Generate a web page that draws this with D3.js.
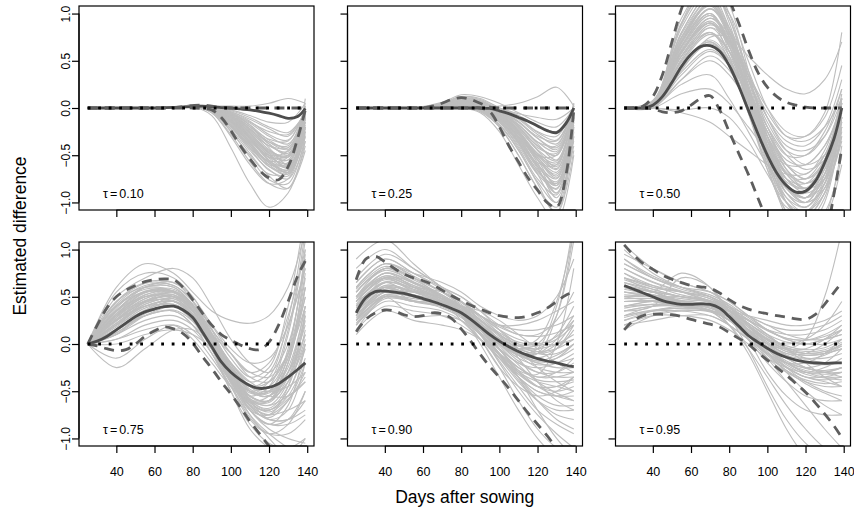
<!DOCTYPE html>
<html>
<head>
<meta charset="utf-8">
<script src="https://cdn.jsdelivr.net/npm/d3@7"></script>
<style>
  body { margin: 0; background: #fff; }
  svg { display: block; font-family: "Liberation Sans", Arial, Helvetica, sans-serif; }
</style>
</head>
<body>
<svg id="chart" width="854" height="516"></svg>
<script>
"use strict";

//
//	Data
//
var tauLabels = ["0.10", "0.25", "0.50", "0.75", "0.90", "0.95"];
var xTicks = [40, 60, 80, 100, 120, 140];
var yTicks = [-1, -0.5, 0, 0.5, 1];
var yTickLabels = ["\u22121.0", "\u22120.5", "0.0", "0.5", "1.0"];

// grid of the estimate and the two band lines
var fineDays = [25, 30, 35, 40, 45, 50, 55, 60, 65, 70, 75, 80, 85, 90, 95, 100, 105, 110, 115, 120, 125, 130, 135, 139];
// grid of the bootstrap (grey) curves
var bootDays = [25, 40, 55, 70, 80, 90, 100, 110, 120, 130, 139];

// tau = 0.10
var est010 = [0, 0, 0, 0, 0, 0, 0, 0, 0.003, 0.006, 0.01, 0.015, 0.02, 0.015, 0.005, 0, -0.01, -0.02, -0.035, -0.055, -0.08, -0.11, -0.09, -0.005];
var up010 = [0, 0, 0, 0, 0, 0, 0, 0, 0, 0.005, 0.015, 0.025, 0.03, 0.02, 0.005, 0, 0, 0, 0, 0, 0, 0, 0, 0];
var lo010 = [0, 0, 0, 0, 0, 0, 0, 0, 0, 0, 0, 0, -0.005, -0.02, -0.1, -0.24, -0.4, -0.54, -0.66, -0.74, -0.76, -0.62, -0.32, -0.02];
var boot010 = [
	[0, 0, 0, 0, 0.02, 0.0, -0.05, -0.15, -0.25, -0.28, -0.05],
	[0, 0, 0, 0, 0.02, -0.01, -0.1, -0.25, -0.4, -0.42, -0.08],
	[0, 0, 0, 0, 0.03, 0.0, -0.08, -0.2, -0.33, -0.35, 0.0],
	[0, 0, 0, 0, 0.02, -0.02, -0.15, -0.35, -0.52, -0.5, -0.1],
	[0, 0, 0, 0, 0.02, -0.03, -0.2, -0.42, -0.6, -0.58, -0.15],
	[0, 0, 0, 0, 0.01, -0.04, -0.25, -0.5, -0.7, -0.68, -0.2],
	[0, 0, 0, 0, 0.02, -0.02, -0.18, -0.4, -0.62, -0.7, -0.3],
	[0, 0, 0, 0, 0.02, 0.0, -0.1, -0.28, -0.48, -0.55, -0.1],
	[0, 0, 0, 0, 0.03, 0.01, -0.05, -0.18, -0.38, -0.48, -0.05],
	[0, 0, 0, 0, 0.02, -0.05, -0.3, -0.6, -0.8, -0.75, -0.25],
	[0, 0, 0, 0, 0.01, -0.08, -0.42, -0.8, -1.05, -0.9, -0.4],
	[0, 0, 0, 0, 0.02, 0.01, -0.02, -0.08, -0.15, -0.15, 0.05],
	[0, 0, 0, 0, 0.03, 0.02, 0.02, 0.02, 0.05, 0.1, 0.05],
	[0, 0, 0, 0, 0.02, -0.02, -0.12, -0.3, -0.5, -0.62, -0.2],
	[0, 0, 0, 0, 0.02, -0.01, -0.08, -0.22, -0.42, -0.6, -0.25],
	[0, 0, 0, 0, 0.02, -0.03, -0.2, -0.45, -0.65, -0.75, -0.35],
	[0, 0, 0, 0, 0.01, -0.02, -0.15, -0.38, -0.58, -0.65, -0.1],
	[0, 0, 0, 0, 0.02, 0.0, -0.06, -0.2, -0.36, -0.4, 0.02],
	[0, 0, 0, 0, 0.02, -0.01, -0.12, -0.32, -0.55, -0.66, -0.05],
	[0, 0, 0, 0, 0.02, 0.0, -0.04, -0.12, -0.22, -0.3, -0.02],
	[0, 0, 0, 0, 0.02, -0.04, -0.22, -0.48, -0.72, -0.85, -0.45],
	[0, 0, 0, 0, 0.02, -0.02, -0.14, -0.34, -0.5, -0.45, 0.0],
	[0, 0, 0, 0, 0.02, 0.0, -0.08, -0.26, -0.45, -0.5, 0.05],
	[0, 0, 0, 0, 0.03, 0.0, -0.06, -0.16, -0.3, -0.38, -0.1],
	[0, 0, 0, 0, 0.02, -0.01, -0.1, -0.3, -0.5, -0.55, 0.1],
	[0, 0, 0, 0, 0.02, -0.03, -0.2, -0.4, -0.56, -0.52, -0.02],
	[0, 0, 0, 0, 0.02, -0.01, -0.09, -0.24, -0.44, -0.52, -0.12],
	[0, 0, 0, 0, 0.02, -0.02, -0.13, -0.33, -0.56, -0.68, -0.28],
	[0, 0, 0, 0, 0.03, 0.0, -0.07, -0.2, -0.36, -0.44, -0.15],
	[0, 0, 0, 0, 0.02, -0.03, -0.17, -0.38, -0.6, -0.7, -0.22],
	[0, 0, 0, 0, 0.02, -0.01, -0.11, -0.27, -0.46, -0.5, -0.02],
	[0, 0, 0, 0, 0.02, -0.02, -0.16, -0.37, -0.57, -0.6, -0.12],
	[0, 0, 0, 0, 0.03, 0.01, -0.04, -0.14, -0.28, -0.34, 0.0],
	[0, 0, 0, 0, 0.02, -0.04, -0.24, -0.52, -0.76, -0.8, -0.3],
	[0, 0, 0, 0, 0.02, -0.02, -0.14, -0.32, -0.52, -0.58, -0.05],
	[0, 0, 0, 0, 0.02, -0.01, -0.1, -0.26, -0.48, -0.64, -0.18],
	[0, 0, 0, 0, 0.02, -0.03, -0.19, -0.43, -0.66, -0.72, -0.2],
	[0, 0, 0, 0, 0.03, 0.0, -0.06, -0.18, -0.34, -0.42, -0.02],
	[0, 0, 0, 0, 0.02, -0.02, -0.12, -0.29, -0.47, -0.52, -0.08],
	[0, 0, 0, 0, 0.02, -0.05, -0.28, -0.57, -0.8, -0.85, -0.35],
	[0, 0, 0, 0, 0.02, 0.0, -0.08, -0.23, -0.4, -0.46, 0.02],
	[0, 0, 0, 0, 0.02, -0.01, -0.09, -0.22, -0.38, -0.5, -0.2],
	[0, 0, 0, 0, 0.02, -0.02, -0.15, -0.36, -0.58, -0.68, -0.15],
	[0, 0, 0, 0, 0.02, -0.03, -0.18, -0.4, -0.62, -0.66, -0.08],
	[0, 0, 0, 0, 0.03, 0.01, -0.03, -0.1, -0.2, -0.26, -0.05],
	[0, 0, 0, 0, 0.02, -0.02, -0.13, -0.31, -0.53, -0.63, -0.25]
];

// tau = 0.25
var est025 = [0, 0, 0, 0, 0, 0, 0, 0, 0, 0, 0, 0, 0, 0, -0.005, -0.03, -0.06, -0.1, -0.14, -0.19, -0.24, -0.26, -0.16, 0];
var up025 = [0, 0, 0, 0, 0, 0, 0, 0, 0.02, 0.05, 0.09, 0.11, 0.09, 0.05, 0.01, 0, 0, 0, 0, 0, 0, 0, 0, 0];
var lo025 = [0, 0, 0, 0, 0, 0, 0, 0, 0, 0, 0, 0, 0, 0, -0.04, -0.2, -0.4, -0.57, -0.74, -0.87, -1.0, -1.05, -0.7, -0.02];
var boot025 = [
	[0, 0, 0, 0.02, 0.05, 0.02, -0.05, -0.2, -0.4, -0.5, -0.05],
	[0, 0, 0, 0.04, 0.1, 0.08, -0.02, -0.15, -0.32, -0.42, 0],
	[0, 0, 0, 0.01, 0.02, -0.02, -0.15, -0.4, -0.7, -0.85, -0.1],
	[0, 0, 0, 0.05, 0.12, 0.1, 0.0, -0.1, -0.25, -0.3, 0.02],
	[0, 0, 0, 0.02, 0.04, 0.0, -0.1, -0.3, -0.55, -0.7, -0.1],
	[0, 0, 0, 0.03, 0.08, 0.05, -0.05, -0.25, -0.5, -0.65, -0.05],
	[0, 0, 0, 0.0, 0.01, -0.03, -0.2, -0.5, -0.85, -1.1, -0.3],
	[0, 0, 0, 0.06, 0.14, 0.12, 0.05, -0.05, -0.15, -0.2, 0],
	[0, 0, 0, 0.02, 0.06, 0.04, -0.06, -0.22, -0.45, -0.62, 0.05],
	[0, 0, 0, 0.01, 0.03, -0.01, -0.12, -0.35, -0.62, -0.78, -0.15],
	[0, 0, 0, 0.03, 0.08, 0.06, 0.0, -0.08, -0.18, -0.25, 0.02],
	[0, 0, 0, 0.0, 0.0, -0.05, -0.25, -0.6, -0.95, -1.2, -0.5],
	[0, 0, 0, 0.04, 0.09, 0.05, -0.05, -0.18, -0.38, -0.55, -0.05],
	[0, 0, 0, 0.02, 0.05, 0.02, -0.08, -0.28, -0.58, -0.9, -0.2],
	[0, 0, 0, 0.0, 0.0, 0.0, 0.02, 0.05, 0.12, 0.22, 0.02],
	[0, 0, 0, 0.03, 0.07, 0.03, -0.08, -0.26, -0.48, -0.58, 0],
	[0, 0, 0, 0.02, 0.04, 0.0, -0.1, -0.32, -0.62, -0.95, -0.4],
	[0, 0, 0, 0.05, 0.11, 0.08, -0.02, -0.12, -0.28, -0.38, 0.03],
	[0, 0, 0, 0.01, 0.03, -0.02, -0.14, -0.38, -0.68, -0.8, 0],
	[0, 0, 0, 0.03, 0.07, 0.04, -0.04, -0.15, -0.3, -0.35, 0],
	[0, 0, 0, 0.02, 0.05, 0.01, -0.1, -0.3, -0.5, -0.5, 0.05],
	[0, 0, 0, 0.01, 0.02, -0.03, -0.18, -0.45, -0.78, -1.0, -0.2],
	[0, 0, 0, 0.04, 0.1, 0.06, -0.03, -0.2, -0.42, -0.48, 0],
	[0, 0, 0, 0.02, 0.06, 0.02, -0.07, -0.24, -0.52, -0.72, -0.1],
	[0, 0, 0, 0.03, 0.07, 0.05, 0.0, -0.06, -0.1, -0.12, 0],
	[0, 0, 0, 0.01, 0.03, -0.02, -0.12, -0.34, -0.58, -0.6, 0],
	[0, 0, 0, 0.02, 0.05, 0.01, -0.09, -0.28, -0.52, -0.68, -0.08],
	[0, 0, 0, 0.03, 0.08, 0.04, -0.06, -0.24, -0.48, -0.64, -0.12],
	[0, 0, 0, 0.01, 0.03, -0.02, -0.15, -0.42, -0.75, -0.92, -0.15],
	[0, 0, 0, 0.04, 0.1, 0.07, -0.03, -0.17, -0.36, -0.46, -0.02],
	[0, 0, 0, 0.02, 0.05, 0.0, -0.12, -0.36, -0.66, -0.86, -0.18],
	[0, 0, 0, 0.03, 0.07, 0.03, -0.07, -0.25, -0.5, -0.6, 0],
	[0, 0, 0, 0.02, 0.04, -0.01, -0.13, -0.37, -0.7, -1.0, -0.3],
	[0, 0, 0, 0.04, 0.09, 0.06, -0.02, -0.14, -0.32, -0.44, 0],
	[0, 0, 0, 0.02, 0.06, 0.03, -0.06, -0.22, -0.44, -0.56, -0.02],
	[0, 0, 0, 0.01, 0.02, -0.04, -0.2, -0.5, -0.85, -1.05, -0.25],
	[0, 0, 0, 0.03, 0.06, 0.02, -0.09, -0.3, -0.6, -0.8, -0.1],
	[0, 0, 0, 0.02, 0.05, 0.02, -0.07, -0.26, -0.54, -0.74, -0.05],
	[0, 0, 0, 0.05, 0.12, 0.09, 0.0, -0.11, -0.26, -0.34, 0.02],
	[0, 0, 0, 0.02, 0.04, 0.0, -0.11, -0.33, -0.64, -0.9, -0.22],
	[0, 0, 0, 0.03, 0.07, 0.04, -0.05, -0.2, -0.4, -0.5, 0.02],
	[0, 0, 0, 0.01, 0.03, -0.01, -0.12, -0.36, -0.66, -0.82, -0.06],
	[0, 0, 0, 0.02, 0.05, 0.01, -0.1, -0.31, -0.6, -0.75, -0.12],
	[0, 0, 0, 0.04, 0.08, 0.05, -0.04, -0.18, -0.36, -0.4, 0.04],
	[0, 0, 0, 0.02, 0.06, 0.02, -0.08, -0.27, -0.55, -0.82, -0.35],
	[0, 0, 0, 0.01, 0.02, -0.03, -0.17, -0.44, -0.8, -1.12, -0.45]
];

// tau = 0.50
var est050 = [0, 0, 0, 0.03, 0.12, 0.27, 0.44, 0.57, 0.65, 0.66, 0.6, 0.45, 0.23, -0.02, -0.27, -0.5, -0.69, -0.82, -0.89, -0.88, -0.78, -0.58, -0.32, 0];
var up050 = [0, 0, 0.02, 0.12, 0.35, 0.7, 1.05, 1.3, 1.45, 1.5, 1.4, 1.15, 0.9, 0.62, 0.38, 0.22, 0.12, 0.06, 0.03, 0.01, 0, 0, 0, 0];
var lo050 = [0, 0, 0, -0.01, -0.04, -0.05, -0.03, 0.03, 0.1, 0.13, -0.02, -0.25, -0.48, -0.7, -0.95, -1.2, -1.45, -1.6, -1.7, -1.7, -1.6, -1.4, -0.9, -0.42];
var boot050 = [
	[0, 0.05, 0.7, 1.0, 0.6, 0.05, -0.5, -0.9, -1.0, -0.7, 0],
	[0, 0.02, 0.5, 0.8, 0.55, 0.15, -0.3, -0.7, -0.85, -0.6, 0.05],
	[0, 0.08, 0.9, 1.3, 0.9, 0.2, -0.55, -1.1, -1.3, -1.0, -0.2],
	[0, 0.03, 0.6, 0.9, 0.65, 0.2, -0.25, -0.55, -0.6, -0.4, 0.05],
	[0, 0.0, 0.3, 0.55, 0.4, 0.0, -0.45, -0.8, -0.95, -0.8, -0.1],
	[0, 0.05, 0.75, 1.15, 0.85, 0.3, -0.2, -0.5, -0.5, -0.25, 0.2],
	[0, 0.02, 0.45, 0.7, 0.45, -0.05, -0.6, -1.0, -1.15, -0.9, 0],
	[0, 0.06, 0.8, 1.2, 1.0, 0.5, 0.0, -0.3, -0.35, -0.2, 0.1],
	[0, 0.01, 0.25, 0.35, 0.1, -0.25, -0.6, -0.85, -0.95, -0.75, -0.05],
	[0, 0.04, 0.65, 1.05, 0.85, 0.4, -0.1, -0.45, -0.6, -0.5, -0.15],
	[0, 0.0, -0.05, -0.15, -0.3, -0.45, -0.6, -0.7, -0.7, -0.5, 0],
	[0, 0.0, -0.02, 0.0, -0.1, -0.35, -0.7, -1.0, -1.1, -0.9, -0.3],
	[0, 0.03, 0.55, 0.9, 0.7, 0.3, -0.1, -0.35, -0.4, -0.2, 0.3],
	[0, 0.07, 0.85, 1.25, 0.95, 0.35, -0.3, -0.8, -0.95, -0.6, 0.1],
	[0, 0.02, 0.4, 0.75, 0.75, 0.55, 0.35, 0.2, 0.15, 0.3, 0.7],
	[0, 0.03, 0.6, 0.95, 0.7, 0.1, -0.55, -1.0, -1.2, -1.1, -0.5],
	[0, 0.04, 0.7, 1.1, 0.75, 0.1, -0.6, -1.15, -1.4, -1.2, -0.6],
	[0, 0.01, 0.35, 0.6, 0.45, 0.15, -0.2, -0.5, -0.65, -0.55, -0.1],
	[0, 0.05, 0.75, 1.1, 0.8, 0.25, -0.4, -0.85, -0.9, -0.55, 0.05],
	[0, 0.02, 0.5, 0.85, 0.7, 0.35, 0.0, -0.25, -0.3, -0.1, 0.45],
	[0, 0.03, 0.55, 0.8, 0.5, 0.0, -0.45, -0.75, -0.8, -0.55, 0],
	[0, 0.06, 0.9, 1.4, 1.1, 0.4, -0.4, -1.0, -1.2, -0.95, -0.1],
	[0, 0.0, 0.15, 0.2, 0.05, -0.2, -0.45, -0.6, -0.6, -0.4, 0],
	[0, 0.04, 0.6, 0.95, 0.75, 0.3, -0.2, -0.6, -0.75, -0.6, -0.15],
	[0, 0.02, 0.45, 0.7, 0.5, 0.1, -0.3, -0.6, -0.7, -0.45, 0.1],
	[0, 0.03, 0.65, 1.0, 0.65, 0.0, -0.65, -1.1, -1.3, -1.15, -0.4],
	[0, 0.05, 0.7, 1.05, 0.8, 0.35, -0.05, -0.3, -0.3, -0.05, 0.8],
	[0, 0.02, 0.5, 0.8, 0.6, 0.2, -0.25, -0.65, -0.85, -0.75, -0.2],
	[0, 0.01, 0.3, 0.5, 0.35, 0.05, -0.35, -0.7, -0.85, -0.7, 0],
	[0, 0.03, 0.6, 0.9, 0.55, -0.05, -0.65, -1.05, -1.1, -0.8, 0],
	[0, 0.04, 0.68, 1.05, 0.75, 0.15, -0.45, -0.9, -1.05, -0.8, -0.1],
	[0, 0.03, 0.58, 0.9, 0.65, 0.12, -0.4, -0.8, -0.95, -0.7, 0],
	[0, 0.05, 0.8, 1.2, 0.85, 0.2, -0.45, -0.95, -1.1, -0.85, -0.15],
	[0, 0.02, 0.48, 0.78, 0.6, 0.2, -0.25, -0.6, -0.75, -0.55, 0.05],
	[0, 0.04, 0.7, 1.1, 0.8, 0.25, -0.35, -0.75, -0.85, -0.6, 0.0],
	[0, 0.03, 0.62, 0.98, 0.72, 0.18, -0.4, -0.85, -1.0, -0.85, -0.3],
	[0, 0.06, 0.88, 1.3, 0.95, 0.3, -0.35, -0.85, -1.0, -0.7, 0.05],
	[0, 0.02, 0.42, 0.68, 0.5, 0.12, -0.3, -0.65, -0.8, -0.65, -0.1],
	[0, 0.04, 0.72, 1.12, 0.82, 0.22, -0.42, -0.9, -1.05, -0.75, 0.1],
	[0, 0.03, 0.55, 0.85, 0.6, 0.1, -0.45, -0.85, -0.95, -0.65, 0.0],
	[0, 0.05, 0.78, 1.15, 0.8, 0.15, -0.5, -1.0, -1.15, -0.9, -0.25],
	[0, 0.02, 0.52, 0.88, 0.72, 0.3, -0.15, -0.45, -0.5, -0.3, 0.2],
	[0, 0.04, 0.66, 1.0, 0.7, 0.15, -0.4, -0.78, -0.85, -0.55, 0.1],
	[0, 0.03, 0.6, 0.92, 0.68, 0.2, -0.3, -0.68, -0.8, -0.62, -0.05],
	[0, 0.07, 0.95, 1.35, 1.0, 0.35, -0.3, -0.75, -0.85, -0.55, 0.15],
	[0, 0.01, 0.38, 0.62, 0.45, 0.05, -0.4, -0.75, -0.9, -0.75, -0.2],
	[0, 0.04, 0.64, 0.98, 0.66, 0.05, -0.55, -0.95, -1.05, -0.8, -0.1],
	[0, 0.03, 0.58, 0.95, 0.78, 0.35, -0.1, -0.4, -0.45, -0.3, 0.1],
	[0, 0.05, 0.74, 1.08, 0.76, 0.2, -0.35, -0.7, -0.75, -0.5, 0.05],
	[0, 0.02, 0.45, 0.72, 0.52, 0.08, -0.42, -0.82, -1.0, -0.85, -0.35]
];

// tau = 0.75
var est075 = [0, 0.03, 0.08, 0.15, 0.22, 0.29, 0.34, 0.37, 0.395, 0.4, 0.36, 0.28, 0.13, -0.03, -0.19, -0.3, -0.38, -0.44, -0.47, -0.46, -0.42, -0.35, -0.27, -0.2];
var up075 = [0, 0.2, 0.38, 0.5, 0.57, 0.62, 0.66, 0.68, 0.69, 0.68, 0.6, 0.47, 0.33, 0.2, 0.1, 0.04, -0.01, -0.05, -0.06, 0.02, 0.2, 0.45, 0.72, 0.88];
var lo075 = [0, -0.02, -0.05, -0.07, -0.06, 0.0, 0.08, 0.14, 0.18, 0.16, 0.11, 0.01, -0.13, -0.26, -0.4, -0.53, -0.67, -0.82, -0.95, -1.08, -1.2, -1.3, -1.35, -1.35];
var boot075 = [
	[0, 0.3, 0.55, 0.55, 0.4, 0.05, -0.3, -0.55, -0.6, -0.4, 0.0],
	[0, 0.15, 0.3, 0.35, 0.2, -0.1, -0.4, -0.6, -0.65, -0.55, -0.4],
	[0, 0.55, 0.75, 0.7, 0.5, 0.2, -0.1, -0.3, -0.2, 0.3, 1.0],
	[0, -0.15, 0.05, 0.2, 0.1, -0.15, -0.45, -0.75, -0.95, -1.1, -1.2],
	[0, 0.4, 0.6, 0.6, 0.4, 0.1, -0.2, -0.4, -0.3, 0.2, 0.8],
	[0, 0.2, 0.4, 0.45, 0.35, 0.05, -0.35, -0.7, -0.9, -1.0, -1.05],
	[0, 0.1, 0.25, 0.3, 0.2, 0.0, -0.25, -0.45, -0.5, -0.3, 0.1],
	[0, 0.35, 0.5, 0.5, 0.4, 0.2, -0.05, -0.2, -0.15, 0.2, 0.8],
	[0, 0.05, 0.2, 0.25, 0.15, -0.1, -0.5, -0.85, -1.05, -1.1, -1.0],
	[0, 0.6, 0.85, 0.75, 0.55, 0.35, 0.25, 0.22, 0.3, 0.6, 1.2],
	[0, 0.25, 0.45, 0.5, 0.35, 0.0, -0.4, -0.7, -0.75, -0.45, 0.3],
	[0, -0.25, -0.05, 0.15, 0.15, 0.0, -0.25, -0.5, -0.55, -0.3, 0.2],
	[0, 0.45, 0.65, 0.65, 0.5, 0.15, -0.25, -0.55, -0.6, -0.2, 0.6],
	[0, 0.2, 0.35, 0.4, 0.25, -0.05, -0.4, -0.75, -1.0, -1.2, -1.3],
	[0, 0.3, 0.5, 0.55, 0.35, 0.0, -0.35, -0.6, -0.6, -0.3, 0.4],
	[0, 0.1, 0.3, 0.4, 0.3, 0.05, -0.2, -0.4, -0.5, -0.45, -0.3],
	[0, 0.5, 0.7, 0.8, 0.7, 0.4, 0.05, -0.2, -0.3, 0.0, 0.9],
	[0, 0.15, 0.35, 0.45, 0.3, -0.05, -0.5, -0.9, -1.1, -1.2, -1.0],
	[0, 0.35, 0.55, 0.5, 0.3, 0.0, -0.3, -0.45, -0.4, -0.1, 0.5],
	[0, 0.05, 0.15, 0.2, 0.05, -0.2, -0.45, -0.6, -0.55, -0.2, 0.6],
	[0, 0.25, 0.4, 0.4, 0.25, -0.05, -0.4, -0.65, -0.75, -0.7, -0.6],
	[0, 0.4, 0.55, 0.55, 0.4, 0.15, -0.1, -0.35, -0.4, -0.1, 0.6],
	[0, 0.2, 0.45, 0.55, 0.4, 0.1, -0.3, -0.65, -0.8, -0.7, -0.2],
	[0, 0.3, 0.45, 0.45, 0.3, 0.0, -0.35, -0.55, -0.45, 0.1, 1.1],
	[0, 0.15, 0.3, 0.35, 0.2, -0.1, -0.45, -0.8, -0.95, -0.85, -0.5],
	[0, 0.45, 0.6, 0.55, 0.35, 0.05, -0.25, -0.5, -0.55, -0.35, 0.1],
	[0, 0.1, 0.35, 0.5, 0.4, 0.1, -0.2, -0.45, -0.55, -0.55, -0.4],
	[0, 0.35, 0.6, 0.65, 0.45, 0.05, -0.35, -0.7, -0.85, -0.65, 0.0],
	[0, 0.25, 0.4, 0.45, 0.3, 0.1, -0.1, -0.3, -0.35, -0.1, 0.4],
	[0, 0.0, 0.1, 0.15, 0.1, -0.05, -0.3, -0.6, -0.8, -0.8, -0.7],
	[0, 0.28, 0.5, 0.52, 0.38, 0.05, -0.32, -0.62, -0.7, -0.5, 0.0],
	[0, 0.22, 0.42, 0.48, 0.32, 0.0, -0.38, -0.68, -0.78, -0.6, -0.2],
	[0, 0.38, 0.6, 0.6, 0.42, 0.1, -0.25, -0.5, -0.5, -0.15, 0.5],
	[0, 0.18, 0.38, 0.42, 0.28, -0.02, -0.38, -0.66, -0.8, -0.8, -0.6],
	[0, 0.32, 0.52, 0.55, 0.4, 0.08, -0.3, -0.58, -0.62, -0.35, 0.25],
	[0, 0.12, 0.32, 0.4, 0.28, 0.0, -0.32, -0.6, -0.7, -0.55, -0.15],
	[0, 0.42, 0.62, 0.62, 0.45, 0.12, -0.22, -0.48, -0.52, -0.25, 0.4],
	[0, 0.26, 0.46, 0.5, 0.35, 0.02, -0.35, -0.65, -0.75, -0.6, -0.3],
	[0, 0.34, 0.55, 0.58, 0.42, 0.08, -0.28, -0.55, -0.6, -0.3, 0.3],
	[0, 0.2, 0.4, 0.45, 0.3, -0.02, -0.42, -0.78, -0.95, -0.95, -0.8],
	[0, 0.3, 0.5, 0.5, 0.35, 0.05, -0.3, -0.52, -0.5, -0.15, 0.7],
	[0, 0.24, 0.45, 0.5, 0.36, 0.06, -0.3, -0.6, -0.68, -0.45, 0.15],
	[0, 0.16, 0.36, 0.42, 0.3, 0.02, -0.34, -0.62, -0.72, -0.58, -0.35],
	[0, 0.36, 0.56, 0.56, 0.4, 0.1, -0.22, -0.45, -0.45, -0.1, 0.75],
	[0, 0.28, 0.48, 0.52, 0.36, 0.04, -0.36, -0.7, -0.85, -0.8, -0.5],
	[0, 0.22, 0.44, 0.5, 0.38, 0.08, -0.28, -0.56, -0.6, -0.4, 0.05],
	[0, 0.4, 0.58, 0.56, 0.4, 0.08, -0.28, -0.58, -0.65, -0.4, 0.35],
	[0, 0.14, 0.34, 0.4, 0.28, -0.02, -0.38, -0.7, -0.85, -0.85, -0.75],
	[0, 0.3, 0.52, 0.56, 0.42, 0.1, -0.25, -0.5, -0.55, -0.2, 0.9],
	[0, 0.26, 0.44, 0.46, 0.32, 0.0, -0.36, -0.64, -0.7, -0.5, -0.05],
	[0, 0.32, 0.54, 0.56, 0.4, 0.08, -0.25, -0.45, -0.35, 0.25, 1.3],
	[0, 0.2, 0.42, 0.48, 0.34, 0.04, -0.3, -0.5, -0.4, 0.15, 1.2],
	[0, 0.44, 0.64, 0.62, 0.46, 0.16, -0.15, -0.35, -0.25, 0.4, 1.4],
	[0, 0.26, 0.48, 0.54, 0.4, 0.1, -0.25, -0.5, -0.5, -0.05, 0.95],
	[0, 0.12, 0.3, 0.36, 0.24, -0.06, -0.4, -0.62, -0.6, -0.1, 1.0]
];

// tau = 0.90
var est090 = [0.33, 0.49, 0.555, 0.56, 0.55, 0.535, 0.51, 0.48, 0.45, 0.415, 0.375, 0.33, 0.26, 0.18, 0.1, 0.03, -0.03, -0.08, -0.12, -0.155, -0.18, -0.2, -0.225, -0.24];
var up090 = [0.68, 0.9, 0.93, 0.87, 0.8, 0.74, 0.7, 0.67, 0.63, 0.57, 0.51, 0.46, 0.41, 0.37, 0.33, 0.3, 0.285, 0.28, 0.295, 0.33, 0.38, 0.45, 0.52, 0.55];
var lo090 = [0.13, 0.26, 0.33, 0.36, 0.35, 0.31, 0.29, 0.3, 0.33, 0.32, 0.27, 0.16, 0.03, -0.11, -0.24, -0.35, -0.47, -0.6, -0.73, -0.85, -0.97, -1.1, -1.2, -1.25];
var boot090 = [
	[0.35, 0.6, 0.5, 0.4, 0.3, 0.15, 0.0, -0.12, -0.2, -0.25, -0.25],
	[0.55, 0.8, 0.7, 0.55, 0.45, 0.3, 0.15, 0.05, 0.0, 0.0, 0.05],
	[0.15, 0.4, 0.35, 0.3, 0.2, 0.05, -0.15, -0.35, -0.5, -0.55, -0.55],
	[0.7, 0.95, 0.8, 0.6, 0.45, 0.25, 0.05, -0.1, -0.15, -0.05, 0.2],
	[0.25, 0.5, 0.45, 0.45, 0.35, 0.15, -0.1, -0.35, -0.6, -0.8, -0.9],
	[0.45, 0.7, 0.6, 0.5, 0.4, 0.3, 0.2, 0.15, 0.15, 0.2, 0.3],
	[0.3, 0.55, 0.55, 0.5, 0.4, 0.2, -0.05, -0.3, -0.45, -0.5, -0.45],
	[0.9, 1.1, 0.85, 0.6, 0.5, 0.35, 0.2, 0.1, 0.1, 0.25, 0.55],
	[0.2, 0.45, 0.4, 0.35, 0.25, 0.05, -0.25, -0.6, -0.9, -1.1, -1.2],
	[0.5, 0.75, 0.65, 0.5, 0.35, 0.15, -0.05, -0.2, -0.25, -0.2, -0.1],
	[0.4, 0.6, 0.5, 0.45, 0.4, 0.3, 0.1, -0.15, -0.4, -0.6, -0.7],
	[0.6, 0.85, 0.7, 0.5, 0.35, 0.15, 0.0, -0.05, 0.0, 0.3, 1.1],
	[0.1, 0.35, 0.25, 0.2, 0.15, 0.05, -0.1, -0.3, -0.45, -0.45, -0.35],
	[0.35, 0.65, 0.6, 0.55, 0.45, 0.3, 0.15, 0.0, -0.1, -0.1, 0.0],
	[0.65, 0.9, 0.75, 0.6, 0.5, 0.35, 0.15, -0.05, -0.25, -0.4, -0.5],
	[0.25, 0.55, 0.5, 0.4, 0.3, 0.1, -0.2, -0.5, -0.75, -0.95, -1.1],
	[0.45, 0.6, 0.45, 0.4, 0.35, 0.25, 0.1, -0.05, -0.1, 0.0, 0.25],
	[0.3, 0.7, 0.65, 0.5, 0.3, 0.0, -0.35, -0.7, -1.0, -1.2, -1.3],
	[0.8, 1.0, 0.8, 0.6, 0.45, 0.3, 0.2, 0.2, 0.25, 0.35, 0.45],
	[0.2, 0.5, 0.45, 0.4, 0.3, 0.15, -0.05, -0.2, -0.3, -0.3, -0.2],
	[0.5, 0.7, 0.55, 0.45, 0.4, 0.35, 0.25, 0.1, -0.05, -0.2, -0.3],
	[0.4, 0.65, 0.5, 0.4, 0.3, 0.1, -0.15, -0.4, -0.6, -0.7, -0.7],
	[0.55, 0.8, 0.65, 0.5, 0.35, 0.2, 0.05, -0.05, -0.05, 0.1, 0.4],
	[0.35, 0.55, 0.5, 0.45, 0.3, 0.05, -0.25, -0.45, -0.55, -0.5, -0.35],
	[0.15, 0.5, 0.55, 0.45, 0.35, 0.2, 0.05, -0.1, -0.2, -0.15, 0.0],
	[0.45, 0.75, 0.6, 0.45, 0.25, 0.05, -0.15, -0.3, -0.4, -0.45, -0.5],
	[0.6, 0.85, 0.75, 0.65, 0.55, 0.4, 0.3, 0.25, 0.3, 0.5, 0.9],
	[0.3, 0.5, 0.3, 0.3, 0.25, 0.1, -0.1, -0.25, -0.35, -0.35, -0.3],
	[0.5, 0.8, 0.7, 0.55, 0.4, 0.2, -0.05, -0.35, -0.7, -1.0, -1.2],
	[0.25, 0.6, 0.55, 0.5, 0.35, 0.15, 0.0, -0.1, -0.1, 0.05, 0.3],
	[0.4, 0.65, 0.58, 0.48, 0.38, 0.2, 0.0, -0.18, -0.3, -0.35, -0.35],
	[0.5, 0.72, 0.62, 0.5, 0.4, 0.22, 0.05, -0.1, -0.18, -0.15, -0.05],
	[0.3, 0.55, 0.5, 0.42, 0.32, 0.12, -0.12, -0.35, -0.5, -0.55, -0.5],
	[0.6, 0.85, 0.72, 0.55, 0.42, 0.25, 0.08, -0.05, -0.1, -0.05, 0.15],
	[0.25, 0.5, 0.48, 0.42, 0.32, 0.12, -0.12, -0.38, -0.6, -0.75, -0.8],
	[0.45, 0.68, 0.58, 0.48, 0.38, 0.25, 0.1, -0.02, -0.05, 0.0, 0.1],
	[0.35, 0.6, 0.55, 0.46, 0.36, 0.18, -0.05, -0.28, -0.45, -0.55, -0.6],
	[0.55, 0.78, 0.66, 0.52, 0.4, 0.24, 0.1, 0.0, -0.02, 0.05, 0.2],
	[0.2, 0.48, 0.45, 0.4, 0.3, 0.1, -0.18, -0.45, -0.7, -0.85, -0.95],
	[0.45, 0.7, 0.6, 0.48, 0.36, 0.18, 0.0, -0.15, -0.22, -0.2, -0.15],
	[0.38, 0.62, 0.55, 0.45, 0.36, 0.22, 0.05, -0.12, -0.25, -0.3, -0.3],
	[0.65, 0.9, 0.75, 0.58, 0.45, 0.28, 0.12, 0.02, 0.0, 0.08, 0.25],
	[0.28, 0.52, 0.46, 0.38, 0.28, 0.1, -0.12, -0.32, -0.45, -0.45, -0.4],
	[0.5, 0.75, 0.64, 0.5, 0.38, 0.2, 0.02, -0.12, -0.18, -0.12, 0.0],
	[0.33, 0.58, 0.52, 0.45, 0.35, 0.15, -0.1, -0.35, -0.55, -0.65, -0.65],
	[0.58, 0.82, 0.7, 0.55, 0.44, 0.3, 0.18, 0.1, 0.08, 0.12, 0.2],
	[0.42, 0.66, 0.57, 0.47, 0.35, 0.16, -0.06, -0.25, -0.38, -0.4, -0.38],
	[0.22, 0.52, 0.5, 0.44, 0.34, 0.16, -0.06, -0.25, -0.35, -0.3, -0.15],
	[0.48, 0.72, 0.62, 0.5, 0.38, 0.2, -0.02, -0.22, -0.4, -0.52, -0.6],
	[0.36, 0.62, 0.56, 0.48, 0.4, 0.26, 0.1, -0.02, -0.08, -0.05, 0.05],
	[0.45, 0.7, 0.6, 0.48, 0.36, 0.18, 0.0, -0.12, -0.1, 0.3, 1.2],
	[0.3, 0.58, 0.52, 0.44, 0.34, 0.18, 0.02, -0.1, -0.05, 0.4, 1.3],
	[0.55, 0.8, 0.68, 0.52, 0.4, 0.22, 0.06, -0.02, 0.05, 0.45, 1.2],
	[0.25, 0.5, 0.46, 0.4, 0.3, 0.12, -0.1, -0.28, -0.32, 0.0, 0.8]
];

// tau = 0.95
var est095 = [0.62, 0.58, 0.54, 0.5, 0.46, 0.435, 0.42, 0.42, 0.425, 0.42, 0.38, 0.29, 0.19, 0.09, 0.02, -0.045, -0.1, -0.14, -0.17, -0.19, -0.2, -0.205, -0.2, -0.2];
var up095 = [1.05, 0.94, 0.85, 0.79, 0.73, 0.685, 0.65, 0.62, 0.605, 0.59, 0.54, 0.47, 0.41, 0.37, 0.34, 0.32, 0.3, 0.285, 0.265, 0.26, 0.31, 0.42, 0.55, 0.65];
var lo095 = [0.15, 0.25, 0.3, 0.315, 0.315, 0.31, 0.29, 0.26, 0.235, 0.21, 0.18, 0.12, 0.06, 0.0, -0.09, -0.17, -0.25, -0.33, -0.42, -0.51, -0.62, -0.74, -0.87, -0.99];
var boot095 = [
	[0.6, 0.5, 0.45, 0.4, 0.3, 0.15, 0.0, -0.1, -0.15, -0.15, -0.1],
	[0.9, 0.7, 0.6, 0.55, 0.45, 0.3, 0.2, 0.1, 0.05, 0.05, 0.1],
	[0.3, 0.35, 0.35, 0.3, 0.2, 0.05, -0.15, -0.3, -0.4, -0.45, -0.45],
	[0.75, 0.6, 0.55, 0.5, 0.4, 0.3, 0.2, 0.15, 0.15, 0.2, 0.3],
	[0.45, 0.45, 0.4, 0.35, 0.2, -0.05, -0.35, -0.65, -0.9, -1.1, -1.2],
	[0.2, 0.3, 0.3, 0.25, 0.15, 0.0, -0.15, -0.25, -0.3, -0.25, -0.15],
	[1.0, 0.75, 0.6, 0.5, 0.35, 0.15, -0.05, -0.2, -0.3, -0.35, -0.35],
	[0.55, 0.5, 0.5, 0.45, 0.35, 0.2, 0.05, -0.05, -0.05, 0.05, 0.2],
	[0.35, 0.4, 0.7, 0.6, 0.35, 0.05, -0.3, -0.55, -0.7, -0.75, -0.75],
	[0.7, 0.55, 0.45, 0.4, 0.35, 0.25, 0.1, -0.05, -0.2, -0.35, -0.45],
	[0.15, 0.3, 0.35, 0.35, 0.3, 0.15, 0.0, -0.1, -0.1, 0.0, 0.15],
	[0.5, 0.45, 0.4, 0.4, 0.3, 0.1, -0.1, -0.3, -0.5, -0.65, -0.75],
	[0.8, 0.65, 0.55, 0.45, 0.35, 0.25, 0.15, 0.1, 0.1, 0.15, 0.25],
	[0.4, 0.45, 0.45, 0.4, 0.2, -0.1, -0.5, -0.9, -1.2, -1.4, -1.5],
	[0.65, 0.55, 0.45, 0.4, 0.3, 0.15, 0.0, -0.05, 0.05, 0.5, 1.2],
	[0.25, 0.35, 0.4, 0.35, 0.25, 0.1, -0.05, -0.2, -0.3, -0.3, -0.25],
	[0.95, 0.8, 0.65, 0.55, 0.4, 0.2, 0.0, -0.15, -0.25, -0.3, -0.3],
	[0.5, 0.5, 0.45, 0.4, 0.35, 0.3, 0.25, 0.2, 0.2, 0.25, 0.35],
	[0.35, 0.4, 0.4, 0.35, 0.25, 0.05, -0.2, -0.4, -0.55, -0.6, -0.6],
	[0.6, 0.55, 0.45, 0.35, 0.2, 0.05, -0.1, -0.2, -0.2, -0.1, 0.05],
	[0.85, 0.7, 0.6, 0.5, 0.4, 0.25, 0.1, -0.05, -0.15, -0.2, -0.2],
	[0.3, 0.4, 0.45, 0.45, 0.35, 0.15, -0.05, -0.25, -0.4, -0.5, -0.55],
	[0.55, 0.5, 0.45, 0.4, 0.25, 0.1, -0.1, -0.25, -0.35, -0.35, -0.3],
	[0.7, 0.6, 0.55, 0.45, 0.3, 0.1, -0.15, -0.4, -0.65, -0.9, -1.1],
	[0.45, 0.45, 0.4, 0.4, 0.35, 0.25, 0.15, 0.05, 0.0, 0.05, 0.1],
	[0.2, 0.25, 0.3, 0.3, 0.2, 0.05, -0.1, -0.2, -0.25, -0.2, -0.05],
	[1.05, 0.8, 0.65, 0.55, 0.45, 0.3, 0.15, 0.05, 0.0, 0.0, 0.05],
	[0.6, 0.5, 0.4, 0.35, 0.25, 0.1, -0.05, -0.15, -0.25, -0.3, -0.35],
	[0.4, 0.45, 0.4, 0.35, 0.3, 0.15, 0.05, 0.0, 0.05, 0.2, 0.45],
	[0.5, 0.55, 0.75, 0.6, 0.3, -0.05, -0.45, -0.8, -1.05, -1.2, -1.3],
	[0.65, 0.58, 0.5, 0.45, 0.35, 0.18, 0.02, -0.12, -0.2, -0.22, -0.2],
	[0.8, 0.66, 0.56, 0.48, 0.38, 0.22, 0.08, -0.04, -0.1, -0.1, -0.05],
	[0.4, 0.42, 0.4, 0.36, 0.25, 0.08, -0.12, -0.28, -0.38, -0.42, -0.4],
	[0.55, 0.52, 0.48, 0.44, 0.36, 0.22, 0.1, 0.02, 0.0, 0.05, 0.15],
	[0.3, 0.36, 0.38, 0.35, 0.25, 0.08, -0.1, -0.25, -0.35, -0.38, -0.35],
	[0.7, 0.62, 0.55, 0.48, 0.36, 0.2, 0.04, -0.08, -0.12, -0.1, 0.0],
	[0.48, 0.48, 0.44, 0.4, 0.3, 0.12, -0.08, -0.24, -0.35, -0.4, -0.45],
	[0.9, 0.72, 0.6, 0.52, 0.42, 0.28, 0.15, 0.06, 0.04, 0.08, 0.15],
	[0.35, 0.4, 0.42, 0.38, 0.28, 0.12, -0.06, -0.2, -0.28, -0.3, -0.25],
	[0.6, 0.55, 0.5, 0.45, 0.32, 0.14, -0.06, -0.22, -0.32, -0.36, -0.38],
	[0.25, 0.32, 0.36, 0.34, 0.26, 0.12, -0.02, -0.12, -0.16, -0.12, -0.02],
	[0.75, 0.62, 0.52, 0.46, 0.36, 0.2, 0.05, -0.06, -0.1, -0.08, 0.0],
	[0.45, 0.46, 0.44, 0.4, 0.32, 0.18, 0.04, -0.06, -0.1, -0.08, -0.02],
	[0.58, 0.52, 0.46, 0.4, 0.28, 0.1, -0.1, -0.28, -0.42, -0.52, -0.6],
	[0.85, 0.7, 0.58, 0.5, 0.38, 0.22, 0.08, -0.02, -0.06, -0.04, 0.05],
	[0.38, 0.42, 0.42, 0.38, 0.3, 0.16, 0.02, -0.08, -0.12, -0.1, -0.05],
	[0.52, 0.5, 0.46, 0.42, 0.34, 0.2, 0.06, -0.04, -0.08, -0.06, 0.02],
	[0.68, 0.58, 0.5, 0.44, 0.32, 0.15, -0.04, -0.18, -0.26, -0.28, -0.25],
	[0.28, 0.35, 0.38, 0.36, 0.28, 0.12, -0.06, -0.2, -0.3, -0.32, -0.3],
	[0.62, 0.56, 0.5, 0.46, 0.38, 0.26, 0.14, 0.06, 0.04, 0.1, 0.2]
];

var estimates = [est010, est025, est050, est075, est090, est095];
var uppers = [up010, up025, up050, up075, up090, up095];
var lowers = [lo010, lo025, lo050, lo075, lo090, lo095];
var boots = [boot010, boot025, boot050, boot075, boot090, boot095];

//
//	Layout (R style 2 x 3 panel grid)
//
var PANEL_LEFT = [79, 347.5, 615.5];
var PANEL_TOP = [6, 242];
var PANEL_W = 235;
var PANEL_H = 204;
var X_DOMAIN = [20.44, 143.56];
var Y_DOMAIN = [-1.08, 1.08];

var svg = d3.select("#chart");

function pairUp(days, vals){
	return days.map(function(d, i){ return [d, vals[i]]; });
}

function drawPanel(k){
	var col = k % 3, row = Math.floor(k / 3);
	var left = PANEL_LEFT[col], top = PANEL_TOP[row];
	var x = d3.scaleLinear().domain(X_DOMAIN).range([left, left + PANEL_W]);
	var y = d3.scaleLinear().domain(Y_DOMAIN).range([top + PANEL_H, top]);

	var g = svg.append("g").attr("class", "panel");

	svg.append("clipPath").attr("id", "clip" + k)
		.append("rect").attr("x", left).attr("y", top)
		.attr("width", PANEL_W).attr("height", PANEL_H);

	var line = d3.line()
		.x(function(d){ return x(d[0]); })
		.y(function(d){ return y(d[1]); })
		.curve(d3.curveCatmullRom.alpha(0.5));

	var plot = g.append("g").attr("clip-path", "url(#clip" + k + ")");

	//  bootstrap curves
	plot.selectAll("path.boot").data(boots[k]).enter().append("path")
		.attr("class", "boot")
		.attr("d", function(v){ return line(pairUp(bootDays, v)); })
		.attr("fill", "none").attr("stroke", "#bebebe").attr("stroke-width", 1.1);

	//  estimate
	plot.append("path").attr("d", line(pairUp(fineDays, estimates[k])))
		.attr("fill", "none").attr("stroke", "#4d4d4d").attr("stroke-width", 2.8);

	//  bands
	[uppers[k], lowers[k]].forEach(function(b){
		plot.append("path").attr("d", line(pairUp(fineDays, b)))
			.attr("fill", "none").attr("stroke", "#5e5e5e").attr("stroke-width", 2.8)
			.attr("stroke-dasharray", "10 7");
	});

	//  zero reference
	plot.append("line")
		.attr("x1", x(25)).attr("x2", x(140))
		.attr("y1", y(0)).attr("y2", y(0))
		.attr("stroke", "#000").attr("stroke-width", 2.8)
		.attr("stroke-dasharray", "2.8 7.7");

	//  box
	g.append("rect").attr("x", left).attr("y", top)
		.attr("width", PANEL_W).attr("height", PANEL_H)
		.attr("fill", "none").attr("stroke", "#000").attr("stroke-width", 1.2);

	//  y axis
	var yAxis = d3.axisLeft(y).tickValues(yTicks).tickSize(7).tickSizeOuter(0)
		.tickFormat(function(d, i){ return col == 0 ? yTickLabels[i] : ""; });
	var ya = g.append("g").attr("transform", "translate(" + left + ",0)").call(yAxis);
	ya.select(".domain").attr("stroke", "#000").attr("stroke-width", 1.2)
		.attr("d", "M0," + y(-1) + "V" + y(1));
	ya.selectAll(".tick line").attr("stroke-width", 1.2);
	ya.selectAll(".tick text")
		.attr("font-size", 12).attr("font-family", null).attr("fill", "#000")
		.attr("x", null).attr("dy", null)
		.attr("text-anchor", "middle")
		.attr("transform", "translate(-9.5,0) rotate(-90)");

	//  x axis
	var xAxis = d3.axisBottom(x).tickValues(xTicks).tickSize(7).tickSizeOuter(0)
		.tickFormat(function(d){ return row == 1 ? String(d) : ""; });
	var xa = g.append("g").attr("transform", "translate(0," + (top + PANEL_H) + ")").call(xAxis);
	xa.select(".domain").attr("stroke", "#000").attr("stroke-width", 1.2)
		.attr("d", "M" + x(40) + ",0H" + x(140));
	xa.selectAll(".tick line").attr("stroke-width", 1.2);
	xa.selectAll(".tick text")
		.attr("font-size", 12.5).attr("font-family", null).attr("fill", "#000")
		.attr("y", 30).attr("dy", null);

	//  tau label
	var lab = g.append("text")
		.attr("x", left + 24).attr("y", top + PANEL_H - 12)
		.attr("font-size", 12.5).attr("fill", "#000");
	lab.append("tspan").text("\u03c4");
	lab.append("tspan").attr("dx", 2).text("=");
	lab.append("tspan").attr("dx", 2).text(tauLabels[k]);
}

for (var k = 0; k < 6; k++){
	drawPanel(k);
}

//
//	Outer axis titles
//
svg.append("text")
	.attr("x", (PANEL_LEFT[0] + PANEL_LEFT[2] + PANEL_W) / 2).attr("y", 503)
	.attr("text-anchor", "middle").attr("font-size", 17.5).attr("fill", "#000")
	.text("Days after sowing");

svg.append("text")
	.attr("transform", "translate(26,236) rotate(-90)")
	.attr("text-anchor", "middle").attr("font-size", 17.5).attr("fill", "#000")
	.text("Estimated difference");
</script>
</body>
</html>
